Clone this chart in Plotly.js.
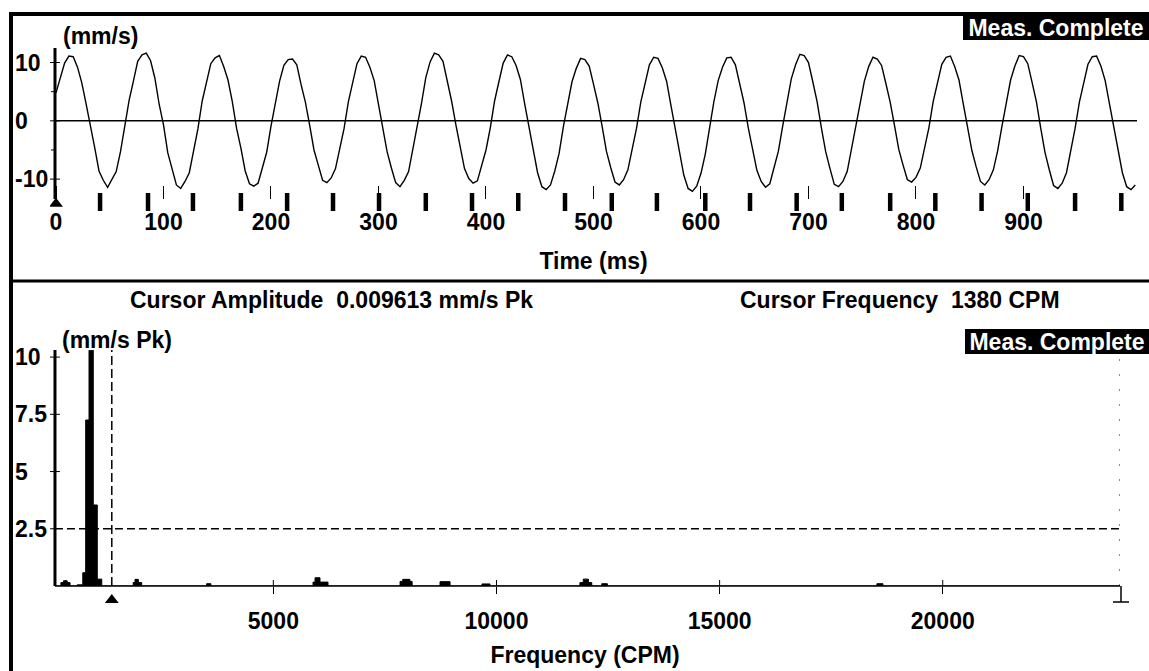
<!DOCTYPE html>
<html>
<head>
<meta charset="utf-8">
<script src="https://cdn.plot.ly/plotly-3.0.1.min.js"></script>
<style>html,body{margin:0;padding:0;background:#fff;}#chart{width:1149px;height:671px;}</style>
</head>
<body>
<div id="chart"></div>
<script>
// ---------------- DATA ----------------
// Time waveform: velocity samples (mm/s), one every 4 ms starting at 0 ms
const sampleIntervalMs = 4;
const waveValues = [
  4.8, 7.2, 9.9, 11.1, 11.0, 9.2, 6.5, 2.9, -1.2, -4.6, -8.6, -10.2, -11.4, -10.0, -8.7, -5.3, -0.8,
  3.5, 6.8, 10.2, 11.3, 11.6, 10.3, 7.3, 2.8, -0.7, -5.5, -8.2, -11.0, -11.6, -10.4, -8.9, -5.0, -1.4,
  3.4, 6.5, 9.8, 10.8, 11.2, 9.3, 7.0, 3.3, -1.3, -4.7, -8.6, -10.8, -11.2, -10.7, -8.1, -5.4, -0.9,
  2.7, 6.8, 9.5, 10.5, 10.6, 9.6, 6.2, 3.2, -0.8, -5.0, -7.6, -10.2, -10.6, -9.8, -8.2, -4.5, -1.3,
  3.3, 6.6, 9.8, 11.1, 10.9, 9.2, 6.9, 2.8, -1.2, -5.3, -8.1, -10.6, -11.3, -10.2, -8.7, -4.9, -1.0,
  3.0, 7.4, 10.1, 11.6, 11.3, 10.2, 6.9, 3.4, -0.7, -4.6, -8.2, -9.9, -10.7, -10.3, -7.7, -5.0, -1.2,
  3.4, 6.7, 9.9, 11.3, 11.0, 9.5, 7.1, 2.9, -1.3, -5.0, -8.9, -11.3, -11.8, -11.0, -8.6, -5.6, -1.0,
  2.8, 6.7, 9.0, 10.7, 10.5, 9.4, 6.3, 3.1, -0.9, -5.2, -8.0, -10.5, -11.0, -10.1, -8.4, -4.8, -1.3,
  3.2, 6.4, 9.6, 10.9, 10.7, 9.1, 6.8, 2.7, -1.4, -5.1, -9.3, -11.6, -12.1, -11.2, -9.0, -5.7, -1.0,
  3.3, 6.9, 9.2, 10.8, 10.9, 9.6, 6.4, 3.1, -1.2, -4.8, -8.5, -10.4, -11.4, -10.8, -8.1, -5.2, -0.9,
  3.0, 7.2, 9.6, 11.4, 11.2, 10.0, 6.7, 3.3, -1.2, -5.3, -8.2, -10.9, -11.3, -10.4, -8.7, -4.9, -1.3,
  2.8, 6.8, 9.3, 10.9, 10.6, 9.5, 6.4, 3.2, -0.8, -4.9, -7.6, -10.1, -10.5, -9.7, -8.1, -4.6, -1.2,
  3.3, 6.6, 9.7, 10.9, 11.1, 9.3, 7.0, 2.9, -1.1, -5.1, -7.9, -10.4, -11.0, -10.1, -8.4, -5.1, -0.9,
  3.0, 7.0, 9.4, 11.2, 11.0, 9.8, 6.6, 3.3, -1.2, -5.4, -8.4, -11.1, -11.6, -10.7, -8.9, -5.1, -1.3,
  3.2, 6.6, 9.7, 11.0, 11.1, 9.4, 6.9, 2.9, -1.2, -5.2, -8.9, -11.3, -11.8, -11.0
];
// Time-marker positions (ms) shown under the waveform
const markerTimes = [41, 85.6, 127.4, 172, 215, 257.7, 300.5, 344, 387, 430, 473.5, 517, 559, 604, 645.6, 689, 731, 776, 818, 861, 904, 948, 991];
const timeCursor = [0];
const timeTicks = [0, 100, 200, 300, 400, 500, 600, 700, 800, 900];
const waveYTicks = [-10, 0, 10];
const waveYLabels = ['-10', '0', '10'];
const waveYMinor = [-5, 5];

// Spectrum (step outline): frequency (CPM) and amplitude (mm/s Pk)
const specFreq = [107, 240, 300, 380, 445, 605, 730, 795, 870, 965, 1055, 1155, 1860, 1900, 1975, 2050, 3505, 3600, 5890, 5935, 6045, 6225, 7840, 7900, 8060, 8110, 8735, 8960, 9675, 9855, 11870, 11945, 12060, 12135, 12360, 12485, 18525, 18660, 23972];
const specAmp  = [0, 0.15, 0.23, 0.15, 0, 0.05, 0.58, 7.25, 10.3, 3.54, 0.3, 0, 0.15, 0.29, 0.15, 0, 0.1, 0, 0.17, 0.36, 0.17, 0, 0.2, 0.29, 0.2, 0, 0.19, 0, 0.09, 0, 0.15, 0.3, 0.15, 0, 0.1, 0, 0.1, 0, 0];
const freqTicks = [5000, 10000, 15000, 20000];
const specYTicks = [2.5, 5, 7.5, 10];
const specYLabels = ['2.5', '5', '7.5', '10'];
const cursorFreq = 1380;          // CPM
const cursorAmplitude = '0.009613';
const alarmLevel = 2.5;           // mm/s Pk
const endCursorFreq = 23990;      // CPM

// ---------------- LAYOUT HELPERS ----------------
const W = 1149, H = 671;
const px = x => x / W;
const py = y => 1 - y / H;
const FONT = 'Liberation Sans, Arial, Helvetica, sans-serif';
const f = (size, color) => ({family: FONT, size: size, color: color || '#000', weight: 700});

const waveTimes = waveValues.map((v, i) => i * sampleIntervalMs);
const topXRange = [-5.58, 1005.6];
const topAxisT = -0.93;           // time-axis origin line position
const topYRange = [-13.41, 12.49];
const botYRange = [0, 10.31];
const botXRange = [-4.5, 23972];
const botAxisF = 107;             // frequency-axis origin line position
const rowRange = [0, 1];

const TOP = {l: 50, r: 1137, t: 48, b: 199};
const BOT = {l: 50, r: 1120, t: 350, b: 586};

const traces = [
  // amplitude axis lines (drawn as traces so they sit inside each plot area)
  {x: [topAxisT, topAxisT], y: topYRange, type: 'scatter', mode: 'lines', xaxis: 'x', yaxis: 'y',
   line: {color: '#000', width: 3}, hoverinfo: 'skip'},
  {x: [botAxisF, botAxisF], y: botYRange, type: 'scatter', mode: 'lines', xaxis: 'x2', yaxis: 'y2',
   line: {color: '#000', width: 3}, hoverinfo: 'skip'},
  {x: waveTimes, y: waveValues, type: 'scatter', mode: 'lines', xaxis: 'x', yaxis: 'y',
   line: {color: '#000', width: 1.4}, hoverinfo: 'skip'},
  {x: markerTimes, y: markerTimes.map(() => 0.5), type: 'scatter', mode: 'markers', xaxis: 'x', yaxis: 'y3',
   marker: {symbol: 'line-ns', size: 15, color: '#000', line: {color: '#000', width: 4.5}}, hoverinfo: 'skip'},
  {x: timeCursor, y: [0.4], type: 'scatter', mode: 'markers', xaxis: 'x', yaxis: 'y3',
   marker: {symbol: 'triangle-up', size: 12, color: '#000'}, hoverinfo: 'skip'},
  {x: specFreq, y: specAmp, type: 'scatter', mode: 'lines', xaxis: 'x2', yaxis: 'y2',
   line: {color: '#000', width: 1, shape: 'hv'}, fill: 'tozeroy', fillcolor: '#000', hoverinfo: 'skip'},
  {x: [cursorFreq], y: [0.5], type: 'scatter', mode: 'markers', xaxis: 'x2', yaxis: 'y4',
   marker: {symbol: 'triangle-up', size: 12, color: '#000'}, hoverinfo: 'skip'}
];

const hiddenAxis = {showline: false, showgrid: false, zeroline: false, showticklabels: false, ticks: '', fixedrange: true};

const crossYTick = (xref, yref, xa, v, l, r) => ({type: 'line', xref: xref, yref: yref, xsizemode: 'pixel', xanchor: xa,
  x0: -l, x1: r, y0: v, y1: v, line: {color: '#000', width: 1}});
const insideXTick = (xref, yref, v) => ({type: 'line', xref: xref, yref: yref, ysizemode: 'pixel', yanchor: 0,
  y0: 0, y1: 6, x0: v, x1: v, line: {color: '#000', width: 1}});
const paperLine = (x0, y0, x1, y1, w) => ({type: 'line', xref: 'paper', yref: 'paper', x0: px(x0), x1: px(x1), y0: py(y0), y1: py(y1),
  line: {color: '#000', width: w}});

const shapes = [
  // outer frame and panel separator
  paperLine(11, 12, 11, H, 4),
  paperLine(9, 14, W, 14, 4),
  paperLine(9, 281, W, 281, 3),
  // top panel zero line
  {type: 'line', xref: 'x', yref: 'y', x0: topAxisT, x1: topXRange[1], y0: 0, y1: 0, line: {color: '#000', width: 1.5}},
  // bottom panel frequency axis line
  paperLine(55, 586, 1120, 586, 1.5),
  // alarm level dashed line
  {type: 'line', xref: 'x2', yref: 'y2', x0: botAxisF, x1: endCursorFreq, y0: alarmLevel, y1: alarmLevel,
   line: {color: '#000', width: 1.5, dash: '8px,4px'}},
  // cursor dashed line
  {type: 'line', xref: 'x2', yref: 'y2', x0: cursorFreq, x1: cursorFreq, y0: 0, y1: botYRange[1],
   line: {color: '#000', width: 1.5, dash: '9px,4px'}},
  // end cursor dotted line
  {type: 'line', xref: 'x2', yref: 'y2', x0: endCursorFreq, x1: endCursorFreq, y0: 0, y1: 10.0,
   line: {color: '#000', width: 2.5, dash: '2px,13px'}},
  // end cursor foot (below the plot area)
  paperLine(1121, 586, 1121, 602, 1.5),
  paperLine(1113, 602, 1129, 602, 1.5)
];
waveYTicks.forEach(v => shapes.push(crossYTick('x', 'y', topAxisT, v, 5, 5)));
waveYMinor.forEach(v => shapes.push(crossYTick('x', 'y', topAxisT, v, 4, 0)));
specYTicks.forEach(v => shapes.push(crossYTick('x2', 'y2', botAxisF, v, 5, v === alarmLevel ? 0 : 5)));
freqTicks.forEach(v => shapes.push(insideXTick('x2', 'y2', v)));

const annotations = [
  {text: '(mm/s)', xref: 'paper', yref: 'paper', x: px(100), y: py(36), xanchor: 'center', yanchor: 'middle', showarrow: false, font: f(23)},
  {text: 'Meas. Complete', xref: 'paper', yref: 'paper', x: 1, y: py(28), xanchor: 'right', yanchor: 'middle',
   showarrow: false, font: f(23, '#fff'), bgcolor: '#000', width: 186, height: 25, borderpad: 0, borderwidth: 0},
  {text: 'Cursor Amplitude\u00a0\u00a0' + cursorAmplitude + ' mm/s Pk', xref: 'paper', yref: 'paper', x: px(128), y: py(300),
   xanchor: 'left', yanchor: 'middle', showarrow: false, font: f(23)},
  {text: 'Cursor Frequency\u00a0\u00a0' + cursorFreq + ' CPM', xref: 'paper', yref: 'paper', x: px(1062), y: py(300),
   xanchor: 'right', yanchor: 'middle', showarrow: false, font: f(23)},
  {text: '(mm/s Pk)', xref: 'paper', yref: 'paper', x: px(117), y: py(340), xanchor: 'center', yanchor: 'middle', showarrow: false, font: f(23)},
  {text: 'Meas. Complete', xref: 'paper', yref: 'paper', x: 1, y: py(341), xanchor: 'right', yanchor: 'middle',
   showarrow: false, font: f(23, '#fff'), bgcolor: '#000', width: 184, height: 25, borderpad: 0, borderwidth: 0}
];
waveYTicks.forEach((v, i) => annotations.push({text: waveYLabels[i], xref: 'paper', yref: 'y', x: px(13), y: v,
  xanchor: 'left', yanchor: 'middle', showarrow: false, font: f(23)}));
specYTicks.forEach((v, i) => annotations.push({text: specYLabels[i], xref: 'paper', yref: 'y2', x: px(13), y: v,
  xanchor: 'left', yanchor: 'middle', showarrow: false, font: f(23)}));

const layout = {
  width: W, height: H,
  margin: {l: 0, r: 0, t: 0, b: 0},
  paper_bgcolor: '#fff', plot_bgcolor: 'rgba(0,0,0,0)',
  showlegend: false,
  font: f(23),
  xaxis: {
    domain: [px(TOP.l), px(TOP.r)], range: topXRange, anchor: 'y',
    tickvals: timeTicks, ticktext: timeTicks.map(String),
    ticks: 'inside', ticklen: 13, tickwidth: 1, tickcolor: '#000',
    showline: false, showgrid: false, zeroline: false, fixedrange: true,
    tickfont: f(23), ticklabelstandoff: 7,
    title: {text: 'Time (ms)', font: f(23), standoff: 18}
  },
  yaxis: Object.assign({domain: [py(TOP.b), py(TOP.t)], range: topYRange, anchor: 'x'}, hiddenAxis),
  yaxis3: Object.assign({domain: [py(211), py(193)], range: rowRange, anchor: 'x'}, hiddenAxis),
  xaxis2: {
    domain: [px(BOT.l), px(BOT.r)], range: botXRange, anchor: 'y2',
    showline: false,
    tickvals: freqTicks, ticktext: freqTicks.map(String),
    ticks: 'outside', ticklen: 7, tickwidth: 1, tickcolor: '#000',
    showgrid: false, zeroline: false, fixedrange: true,
    tickfont: f(23), ticklabelstandoff: 7,
    title: {text: 'Frequency (CPM)', font: f(23), standoff: 14}
  },
  yaxis2: Object.assign({domain: [py(BOT.b), py(BOT.t)], range: botYRange, anchor: 'x2'}, hiddenAxis),
  yaxis4: Object.assign({domain: [py(608), py(592)], range: rowRange, anchor: 'x2'}, hiddenAxis),
  shapes: shapes,
  annotations: annotations
};

Plotly.newPlot('chart', traces, layout, {staticPlot: true, displayModeBar: false});
</script>
</body>
</html>
